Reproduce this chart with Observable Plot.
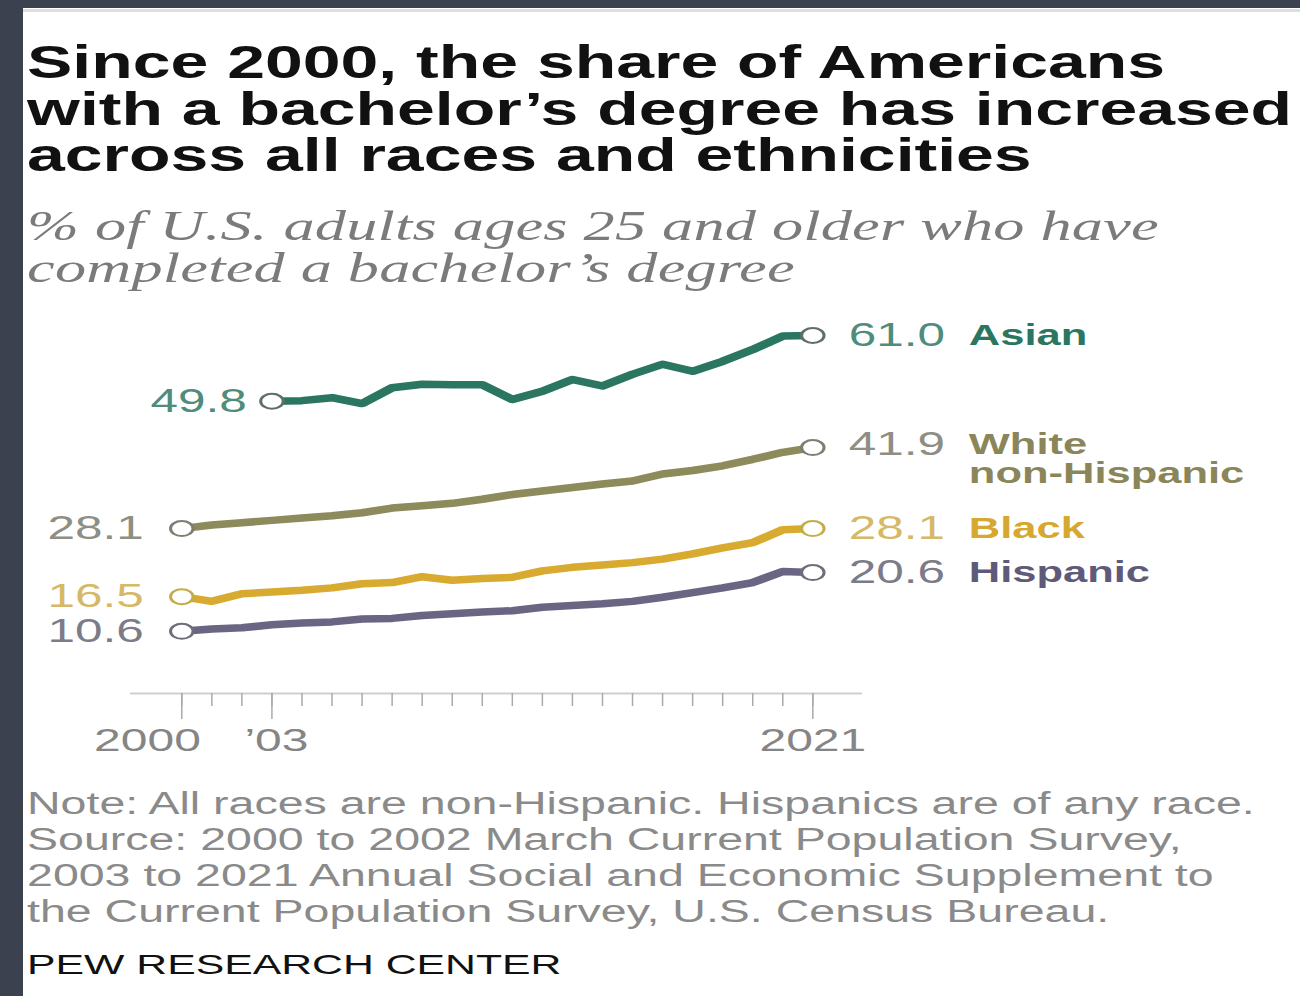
<!DOCTYPE html>
<html>
<head>
<meta charset="utf-8">
<script src="https://cdn.jsdelivr.net/npm/d3@7"></script>
<script src="https://cdn.jsdelivr.net/npm/@observablehq/plot@0.6"></script>
<style>
  html, body { margin: 0; padding: 0; }
  body { width: 1300px; height: 996px; background: #3c4150; position: relative; overflow: hidden; }
  #panel { position: absolute; left: 23px; top: 8px; right: 0; bottom: 0; background: #fff; }
  #rule { position: absolute; left: 23px; top: 9px; right: 0; height: 3px; background: #dedede; }
  #content { position: absolute; left: 23px; top: 0; width: 851px; height: 996px; transform: scaleX(1.5); transform-origin: 0 0; }
  .blk { position: absolute; left: 2.7px; white-space: nowrap; }
  #title { top: 40px; font: bold 45.3px/46.5px "Liberation Sans", Arial, sans-serif; color: #111; }
  #subtitle { top: 205px; font: italic 41.5px/42px "Liberation Serif", Georgia, serif; color: #7b7b7b; letter-spacing: 0.15px; }
  #chart { position: absolute; left: 0; top: 300px; }
  #note { top: 786px; font: 31px/36px "Liberation Sans", Arial, sans-serif; color: #8a8a8a; }
  #pew { top: 950px; font: 28.5px/29px "Liberation Sans", Arial, sans-serif; color: #111; }
</style>
</head>
<body>
<div id="panel"></div>
<div id="rule"></div>
<div id="content">
  <div id="title" class="blk">Since 2000, the share of Americans<br>with a bachelor’s degree has increased<br>across all races and ethnicities</div>
  <div id="subtitle" class="blk">% of U.S. adults ages 25 and older who have<br>completed a bachelor’s degree</div>
  <div id="chart"></div>
  <div id="note" class="blk">Note: All races are non-Hispanic. Hispanics are of any race.<br>Source: 2000 to 2002 March Current Population Survey,<br>2003 to 2021 Annual Social and Economic Supplement to<br>the Current Population Survey, U.S. Census Bureau.</div>
  <div id="pew" class="blk">PEW RESEARCH CENTER</div>
</div>
<script>
// ---- data ----
const years = [2000, 2001, 2002, 2003, 2004, 2005, 2006, 2007, 2008, 2009, 2010,
               2011, 2012, 2013, 2014, 2015, 2016, 2017, 2018, 2019, 2020, 2021];
const asian    = [null, null, null, 49.8, 49.9, 50.4, 49.4, 52.1, 52.7, 52.6, 52.6,
                  50.1, 51.5, 53.5, 52.4, 54.4, 56.1, 54.9, 56.6, 58.6, 60.9, 61.0];
const white    = [28.1, 28.7, 29.1, 29.5, 29.9, 30.3, 30.8, 31.6, 32.0, 32.4, 33.1,
                  33.9, 34.5, 35.1, 35.7, 36.2, 37.4, 38.0, 38.8, 39.9, 41.1, 41.9];
const black    = [16.5, 15.7, 17.0, 17.3, 17.6, 18.0, 18.7, 18.9, 19.9, 19.3, 19.6,
                  19.8, 20.9, 21.5, 21.9, 22.3, 22.9, 23.8, 24.8, 25.7, 27.9, 28.1];
const hispanic = [10.6, 11.0, 11.2, 11.7, 12.0, 12.2, 12.7, 12.8, 13.3, 13.6, 13.9,
                  14.1, 14.7, 15.0, 15.3, 15.7, 16.4, 17.2, 18.0, 18.9, 20.8, 20.6];
const seriesNames = ["Asian", "White\nnon-Hispanic", "Black", "Hispanic"];
const tickYears = [2000, 2003, 2021];
const tickLabels = ["2000", "’03", "2021"];

// ---- styles ----
const seriesStyle = [
  {values: asian,    line: "#2b7661", circle: "#5f6f68", num: "#4f8c7c", name: "#2b7661", leftDx: -16.7, nameDy: 0,  valDy: 0},
  {values: white,    line: "#8d8a5c", circle: "#7d7d72", num: "#8e8e84", name: "#8a8659", leftDx: -25.3, nameDy: 15, valDy: -3},
  {values: black,    line: "#d9aa30", circle: "#c4ac48", num: "#d6b866", name: "#d6a82e", leftDx: -25.3, nameDy: 0,  valDy: 0},
  {values: hispanic, line: "#6b6584", circle: "#6e6e7a", num: "#7c7c88", name: "#5f5a7a", leftDx: -25.3, nameDy: 0,  valDy: 0}
];

const marks = [];
marks.push(Plot.ruleY([0], {stroke: "#cfcfcf", strokeWidth: 2}));
// minor ticks, one per year
marks.push(Plot.axisX({ticks: years, tickSize: 13, tickFormat: () => "", stroke: "#aaa", strokeWidth: 1, label: null}));
// major ticks
marks.push(Plot.axisX({ticks: tickYears, tickSize: 26, tickFormat: () => "", stroke: "#aaa", strokeWidth: 1, label: null}));
// tick labels
const axisOffsets = [12.7, 3, 0];
const axisAnchors = ["end", "middle", "middle"];
tickYears.forEach((t, i) => {
  marks.push(Plot.axisX({
    ticks: [t], tickSize: 0, tickPadding: 35, label: null,
    tickFormat: d => tickLabels[tickYears.indexOf(d)],
    textAnchor: axisAnchors[i], dx: axisOffsets[i],
    fontSize: 32, fill: "#858585"
  }));
});

seriesStyle.forEach((s, i) => {
  const rows = years.map((y, j) => ({year: y, value: s.values[j]})).filter(d => d.value != null);
  const ends = [rows[0], rows[rows.length - 1]];
  marks.push(Plot.lineY(rows, {x: "year", y: "value", stroke: s.line, strokeWidth: 7.5, strokeLinejoin: "round", strokeLinecap: "round"}));
  marks.push(Plot.dot(ends, {x: "year", y: "value", r: 7.5, fill: "white", stroke: s.circle, strokeWidth: 2}));
  marks.push(Plot.text([ends[0]], {x: "year", y: "value", text: d => d.value.toFixed(1), textAnchor: "end", dx: s.leftDx, fontSize: 33, fill: s.num}));
  marks.push(Plot.text([ends[1]], {x: "year", y: "value", text: d => d.value.toFixed(1), textAnchor: "start", dx: 24, dy: s.valDy, fontSize: 33, fill: s.num}));
  marks.push(Plot.text([ends[1]], {x: "year", y: "value", text: () => seriesNames[i], textAnchor: "start", dx: 104, dy: s.nameDy + s.valDy, lineHeight: 1.0, fontSize: 29, fontWeight: "bold", fill: s.name}));
});

const chart = Plot.plot({
  width: 851,
  height: 470,
  marginLeft: 71.3,
  marginRight: 291.7,
  marginTop: 35,
  marginBottom: 77,
  x: {domain: [1998.3, 2022.66], axis: null},
  y: {domain: [0, 61], axis: null},
  style: {fontFamily: "'Liberation Sans', Arial, sans-serif", background: "transparent", overflow: "visible"},
  marks
});
document.getElementById("chart").appendChild(chart);
</script>
</body>
</html>
